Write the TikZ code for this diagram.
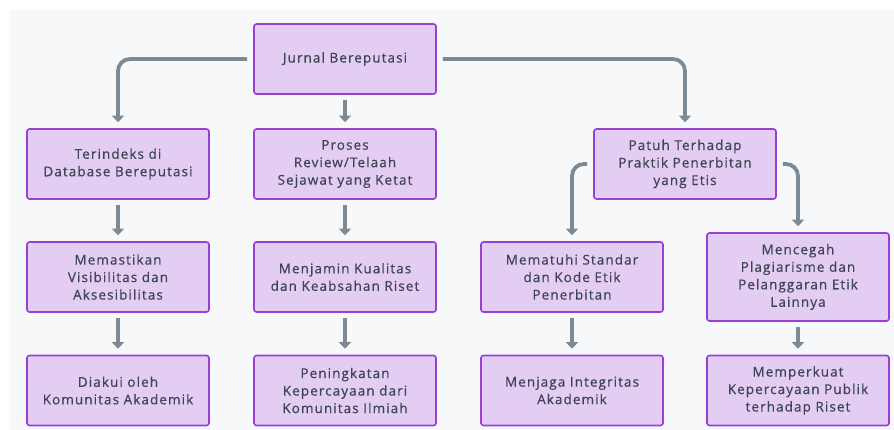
\documentclass[tikz,border=0pt]{standalone}
\usepackage{fontspec}
\setmainfont{Open Sans}[LetterSpace=8,FakeBold=0.5]
\usetikzlibrary{arrows.meta}
\definecolor{bgc}{HTML}{F7F8FA}
\definecolor{boxfill}{HTML}{E3CDF3}
\definecolor{boxdraw}{HTML}{9A3ED8}
\definecolor{txt}{HTML}{3D4452}
\definecolor{arr}{HTML}{7B8A97}
\begin{document}
\begin{tikzpicture}[x=1pt,y=-1pt,
  box/.style={draw=boxdraw, fill=boxfill, line width=1.6pt, rounded corners=2.5pt,
    minimum width=182pt, minimum height=70pt, align=center,
    font=\fontsize{13.5}{17.5}\selectfont, text=txt, inner sep=0pt},
  tallbox/.style={box, minimum height=88pt},
  conn/.style={draw=arr, line width=3.8pt, rounded corners=12pt,
    -{Triangle[width=12pt,length=6.5pt]}},
  vconn/.style={conn, shorten <=5pt, shorten >=6pt}]
\useasboundingbox (0,0) rectangle (894,430);
\fill[white] (0,0) rectangle (894,430);
\fill[bgc] (9,10) rectangle (894,430);

\node[box] (J) at (345,59) {Jurnal Bereputasi};
\node[box] (T) at (118,164) {Terindeks di\\Database Bereputasi};
\node[box] (P) at (345,164) {Proses\\Review/Telaah\\Sejawat yang Ketat};
\node[box] (E) at (685,164) {Patuh Terhadap\\Praktik Penerbitan\\yang Etis};

\node[box] (M1) at (118,277) {Memastikan\\Visibilitas dan\\Aksesibilitas};
\node[box] (M2) at (345,277) {Menjamin Kualitas\\dan Keabsahan Riset};
\node[box] (M3) at (572,277) {Mematuhi Standar\\dan Kode Etik\\Penerbitan};
\node[tallbox] (M4) at (798,277) {Mencegah\\Plagiarisme dan\\Pelanggaran Etik\\Lainnya};

\node[box] (B1) at (118,390.5) {Diakui oleh\\Komunitas Akademik};
\node[box] (B2) at (345,390.5) {Peningkatan\\Kepercayaan dari\\Komunitas Ilmiah};
\node[box] (B3) at (572,390.5) {Menjaga Integritas\\Akademik};
\node[box] (B4) at (798,390.5) {Memperkuat\\Kepercayaan Publik\\terhadap Riset};

\draw[conn] ([xshift=-6pt]J.west) -| ([yshift=6pt]T.north);
\draw[conn] ([xshift=6pt]J.east) -| ([yshift=6pt]E.north);
\draw[vconn] (J) -- (P);
\draw[conn] ([xshift=-6pt]E.west) -| ([yshift=6pt]M3.north);
\draw[conn] ([xshift=6pt]E.east) -| ([yshift=6pt]M4.north);
\draw[vconn] (T) -- (M1);
\draw[vconn] (P) -- (M2);
\draw[vconn] (M1) -- (B1);
\draw[vconn] (M2) -- (B2);
\draw[vconn] (M3) -- (B3);
\draw[vconn] (M4) -- (B4);
\end{tikzpicture}
\end{document}
